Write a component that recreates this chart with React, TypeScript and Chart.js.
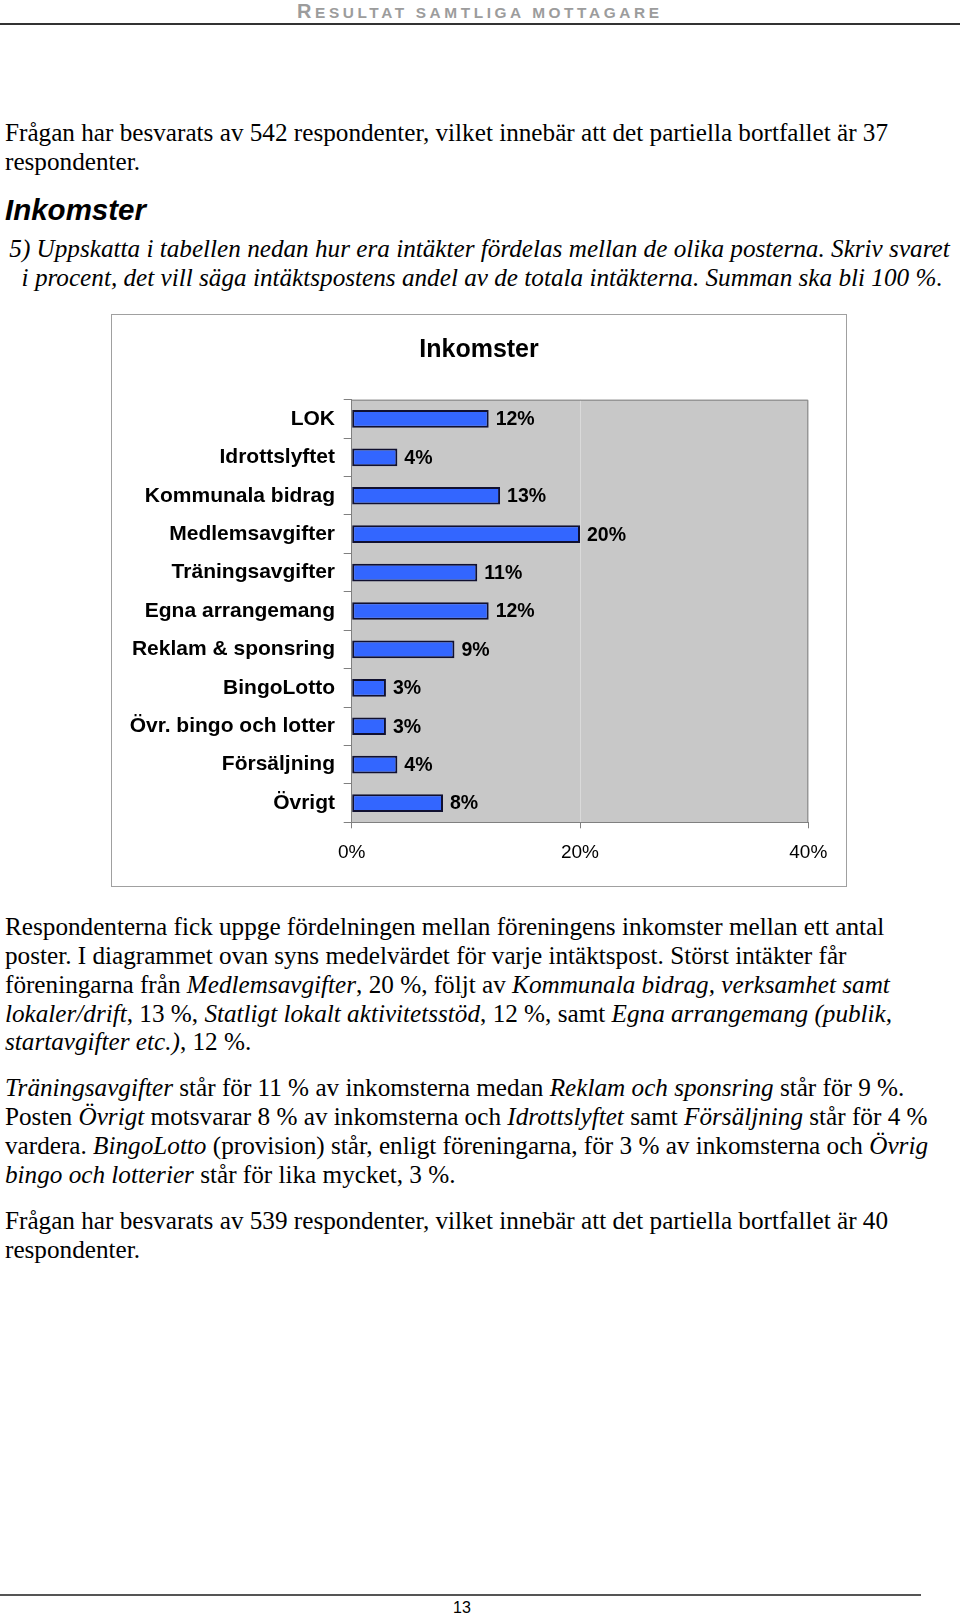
import React, { useEffect, useRef } from 'react';
import { Chart, registerables } from 'chart.js';

Chart.register(...registerables);

const categories = [
  'LOK',
  'Idrottslyftet',
  'Kommunala bidrag',
  'Medlemsavgifter',
  'Träningsavgifter',
  'Egna arrangemang',
  'Reklam & sponsring',
  'BingoLotto',
  'Övr. bingo och lotter',
  'Försäljning',
  'Övrigt',
];
const values = [12, 4, 13, 20, 11, 12, 9, 3, 3, 4, 8];
const xTickValues = [0, 20, 40];
const chartTitle = 'Inkomster';

const SANS = '"Liberation Sans", Arial, Helvetica, sans-serif';
const SERIF = '"Liberation Serif", "Times New Roman", serif';

const plotFrame = {
  id: 'plotFrame',
  beforeDraw(chart: any) {
    const { ctx, chartArea: a } = chart;
    ctx.save();
    ctx.fillStyle = '#c8c8c8';
    ctx.fillRect(a.left, a.top, a.right - a.left, a.bottom - a.top);
    // title, centred on the canvas
    ctx.font = `bold 25px ${SANS}`;
    ctx.fillStyle = '#000';
    ctx.textAlign = 'center';
    ctx.textBaseline = 'middle';
    ctx.fillText(chartTitle, chart.width / 2, 34.7);
    ctx.restore();
  },
  beforeDatasetsDraw(chart: any) {
    const { ctx, chartArea: a } = chart;
    ctx.save();
    ctx.strokeStyle = '#808080';
    ctx.lineWidth = 1;
    ctx.beginPath();
    ctx.moveTo(a.left, a.top + 0.5);
    ctx.lineTo(a.right - 0.5, a.top + 0.5);
    ctx.lineTo(a.right - 0.5, a.bottom);
    ctx.stroke();
    ctx.restore();
  },
};

const valueLabels = {
  id: 'valueLabels',
  afterDatasetsDraw(chart: any) {
    const { ctx } = chart;
    const meta = chart.getDatasetMeta(0);
    ctx.save();
    ctx.font = `bold 19.5px ${SANS}`;
    ctx.fillStyle = '#000';
    ctx.textAlign = 'left';
    ctx.textBaseline = 'middle';
    meta.data.forEach((bar: any, i: number) => {
      ctx.fillText(values[i] + '%', bar.x + 7, bar.y + 1);
    });
    ctx.restore();
  },
};

function ChartBox() {
  const ref = useRef<HTMLCanvasElement | null>(null);
  useEffect(() => {
    if (!ref.current) return;
    const chart = new Chart(ref.current, {
      type: 'bar',
      data: {
        labels: categories,
        datasets: [
          {
            data: values,
            backgroundColor: '#3366ff',
            borderColor: '#101030',
            borderWidth: 2,
            borderSkipped: false,
            barPercentage: 0.46,
            categoryPercentage: 1,
          },
        ],
      },
      options: {
        indexAxis: 'y',
        responsive: false,
        animation: false,
        devicePixelRatio: 1,
        layout: { padding: { left: 0, right: 37.7, top: 84.7, bottom: 0 } },
        plugins: {
          legend: { display: false },
          tooltip: { enabled: false },
          title: { display: false },
        },
        scales: {
          x: {
            min: 0,
            max: 40,
            afterBuildTicks: (s: any) => {
              s.ticks = xTickValues.map((v) => ({ value: v }));
            },
            afterFit: (s: any) => {
              s.height = 63.7;
            },
            ticks: {
              callback: (v: any) => v + '%',
              color: '#000',
              font: { family: SANS, size: 19 },
              padding: 13,
              maxRotation: 0,
            },
            grid: {
              color: (c: any) => (c.tick && c.tick.value === 20 ? '#dadada' : 'rgba(0,0,0,0)'),
              tickColor: '#808080',
              tickLength: 6,
            },
            border: { color: '#808080', width: 1 },
          },
          y: {
            afterFit: (s: any) => {
              s.width = 239.7;
            },
            ticks: {
              color: '#000',
              font: { family: SANS, size: 21, weight: 'bold' },
              padding: 8.7,
            },
            grid: {
              drawOnChartArea: false,
              tickColor: '#808080',
              tickLength: 8,
              offset: true,
            },
            border: { color: '#808080', width: 1 },
          },
        },
      } as any,
      plugins: [plotFrame, valueLabels],
    });
    return () => chart.destroy();
  }, []);
  return (
    <div
      style={{
        position: 'absolute',
        left: 111,
        top: 314,
        width: 736,
        height: 573,
        border: '1px solid #a0a0a0',
        boxSizing: 'border-box',
        background: '#fff',
      }}
    >
      <canvas ref={ref} width={734} height={571} style={{ display: 'block', width: 734, height: 571 }} />
    </div>
  );
}

function Line({ x, base, size = 25.2, family = SERIF, style, children }: any) {
  const asc = family === SERIF ? 0.891 : 0.905;
  const desc = family === SERIF ? 0.216 : 0.212;
  const off = ((1 - (asc + desc)) / 2 + asc) * size;
  return (
    <div
      style={{
        position: 'absolute',
        left: x,
        top: base - off,
        fontFamily: family,
        fontSize: size,
        lineHeight: 1,
        whiteSpace: 'nowrap',
        color: '#000',
        ...style,
      }}
    >
      {children}
    </div>
  );
}

const LS = 28.9;

export default function App() {
  return (
    <div style={{ position: 'absolute', left: 0, top: 0, width: 960, height: 1617, background: '#fff', overflow: 'hidden' }}>
      {/* header */}
      <Line x={297} base={17.5} size={20} family={SANS} style={{ fontWeight: 'bold', color: '#9c9c9c', letterSpacing: 3.6 }}>
        <span>R</span>
        <span style={{ fontSize: 15.4 }}>ESULTAT SAMTLIGA MOTTAGARE</span>
      </Line>
      <div style={{ position: 'absolute', left: 0, top: 22.5, width: 960, height: 2, background: '#333' }} />

      <Line x={5} base={141}>Frågan har besvarats av 542 respondenter, vilket innebär att det partiella bortfallet är 37</Line>
      <Line x={5} base={141 + LS}>respondenter.</Line>

      <Line x={5} base={220} size={29.5} family={SANS} style={{ fontWeight: 'bold', fontStyle: 'italic' }}>Inkomster</Line>

      <Line x={9.3} base={257} style={{ fontStyle: 'italic' }}>5) Uppskatta i tabellen nedan hur era intäkter fördelas mellan de olika posterna. Skriv svaret</Line>
      <Line x={21.6} base={257 + LS}>
        <i>i procent, det vill säga intäktspostens andel av de totala intäkterna. Summan ska bli 100 %.</i>
      </Line>

      <ChartBox />

      <Line x={5} base={935}>Respondenterna fick uppge fördelningen mellan föreningens inkomster mellan ett antal</Line>
      <Line x={5} base={935 + LS}>poster. I diagrammet ovan syns medelvärdet för varje intäktspost. Störst intäkter får</Line>
      <Line x={5} base={935 + 2 * LS}>föreningarna från <i>Medlemsavgifter</i>, 20 %, följt av <i>Kommunala bidrag, verksamhet samt</i></Line>
      <Line x={5} base={935 + 3 * LS}><i>lokaler/drift</i>, 13 %, <i>Statligt lokalt aktivitetsstöd</i>, 12 %, samt <i>Egna arrangemang (publik,</i></Line>
      <Line x={5} base={935 + 4 * LS}><i>startavgifter etc.)</i>, 12 %.</Line>

      <Line x={5} base={1096}><i>Träningsavgifter</i> står för 11 % av inkomsterna medan <i>Reklam och sponsring</i> står för 9 %.</Line>
      <Line x={5} base={1096 + LS}>Posten <i>Övrigt</i> motsvarar 8 % av inkomsterna och <i>Idrottslyftet</i> samt <i>Försäljning</i> står för 4 %</Line>
      <Line x={5} base={1096 + 2 * LS}>vardera. <i>BingoLotto</i> (provision) står, enligt föreningarna, för 3 % av inkomsterna och <i>Övrig</i></Line>
      <Line x={5} base={1096 + 3 * LS}><i>bingo och lotterier</i> står för lika mycket, 3 %.</Line>

      <Line x={5} base={1229}>Frågan har besvarats av 539 respondenter, vilket innebär att det partiella bortfallet är 40</Line>
      <Line x={5} base={1229 + LS}>respondenter.</Line>

      {/* footer */}
      <div style={{ position: 'absolute', left: 0, top: 1594, width: 921, height: 2, background: '#555' }} />
      <div
        style={{
          position: 'absolute',
          left: 0,
          top: 1600,
          width: 924,
          textAlign: 'center',
          fontFamily: SANS,
          fontSize: 16,
          lineHeight: '16px',
          color: '#000',
        }}
      >
        13
      </div>
    </div>
  );
}
